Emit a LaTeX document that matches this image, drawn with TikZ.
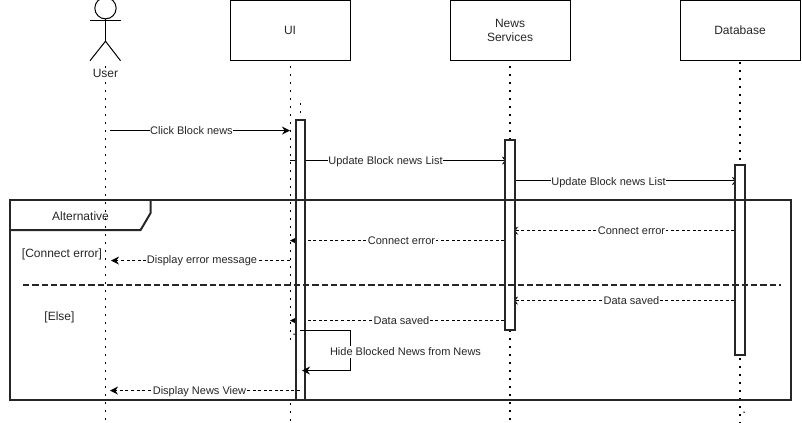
\documentclass[tikz,border=0pt]{standalone}
\usepackage{fontspec}
\setmainfont{Liberation Sans}
\usetikzlibrary{arrows.meta}
\tikzset{
  lbl/.style={font=\fontsize{8.25pt}{9.9pt}\selectfont, text=black!85, align=center, inner sep=0.5pt},
  biglbl/.style={lbl, font=\fontsize{9pt}{10.5pt}\selectfont},
  msglbl/.style={lbl, fill=white, text height=6pt, text depth=1.5pt},
  objbox/.style={draw, line width=0.75pt, minimum width=90pt, minimum height=45pt, biglbl},
  lifeline/.style={line width=1.25pt, dash pattern=on 1.25pt off 4.75pt},
  actbar/.style={draw, black!85, fill=white, line width=1.5pt},
  msg/.style={line width=0.75pt, -{Stealth[length=6pt,width=6pt]}},
  reply/.style={msg, dash pattern=on 2.25pt off 1.9pt},
  frameline/.style={line width=1.5pt, black!85},
  speck/.style={circle, fill, inner sep=0pt, minimum size=1.2pt}
}
\begin{document}
\begin{tikzpicture}[x=0.75pt,y=-0.75pt]
\useasboundingbox (0,-0.2) rectangle (802,422.8);
% objects
\node[objbox] (ui) at (290,30.4){UI};
\node[objbox] (news) at (510,30.4){News\\Services};
\node[objbox] (db) at (740,30.4){Database};
% actor
\node[circle, draw, line width=0.75pt, minimum size=16pt, inner sep=0pt] (head) at (105.5,8){};
\coordinate (neck) at (105.5,41);
\coordinate (armL) at (90,20.5);
\coordinate (armR) at (120.5,20.5);
\coordinate (footL) at (90,60.5);
\coordinate (footR) at (120.5,60.5);
\draw[line width=0.75pt](head) -- (neck);
\draw[line width=0.75pt](armL) -- (armR);
\draw[line width=0.75pt](footL) -- (neck) -- (footR);
% lifelines
\coordinate (userTop) at (105.5,66);
\coordinate (userEnd) at (105.5,423);
\coordinate (uiTop) at (290.5,66);
\coordinate (uiEnd) at (290.5,340);
\coordinate (uiTop2) at (290.5,403);
\coordinate (uiEnd2) at (290.5,423);
\coordinate (barTop) at (300.5,103);
\coordinate (barEnd) at (300.5,120);
\coordinate (newsTop) at (510,66);
\coordinate (newsEnd) at (510,423);
\coordinate (dbTop) at (740,62);
\coordinate (dbEnd) at (740,423);
\draw[lifeline](userTop) -- (userEnd);
\draw[lifeline](uiTop) -- (uiEnd);
\draw[lifeline](uiTop2) -- (uiEnd2);
\draw[lifeline](barTop) -- (barEnd);
\draw[lifeline](newsTop) -- (newsEnd);
\draw[lifeline](dbTop) -- (dbEnd);
\node[speck] (speckUi) at (294,334){};
\node[speck] (speckDb) at (744,412){};
\node[msglbl, biglbl] (user) at (105.5,74.4){User};
% messages behind the bars
\coordinate (m2a) at (290,160.4);
\coordinate (m2b) at (510,160.4);
\coordinate (m3a) at (510,180.8);
\coordinate (m3b) at (740,180.8);
\coordinate (m4a) at (740,230.5);
\coordinate (m4b) at (510,230.5);
\coordinate (m5a) at (510,240.4);
\coordinate (m5b) at (290,240.4);
\coordinate (m7a) at (740,300.4);
\coordinate (m7b) at (510,300.4);
\coordinate (m8a) at (510,320.4);
\coordinate (m8b) at (290,320.4);
\draw[msg](m2a) -- (m2b);
\draw[msg](m3a) -- (m3b);
\draw[reply](m4a) -- (m4b);
\draw[reply](m5a) -- (m5b);
\draw[reply](m7a) -- (m7b);
\draw[reply](m8a) -- (m8b);
% activation bars
\node[actbar, minimum width=7pt, minimum height=210pt, inner sep=0pt] (uiBar) at (300.5,260){};
\node[actbar, minimum width=7pt, minimum height=142.5pt, inner sep=0pt] (newsBar) at (510,235){};
\node[actbar, minimum width=7pt, minimum height=142.5pt, inner sep=0pt] (dbBar) at (740,260){};
% messages in front
\coordinate (m1a) at (110,130.4);
\coordinate (m1b) at (290,130.4);
\coordinate (m6a) at (290,260.4);
\coordinate (m6b) at (111,260.4);
\coordinate (m9a) at (300,330.4);
\coordinate (m9c) at (350.5,330.4);
\coordinate (m9d) at (350.5,370.4);
\coordinate (m9b) at (302,370.4);
\coordinate (m10a) at (300,390.4);
\coordinate (m10b) at (110,390.4);
\draw[msg](m1a) -- (m1b);
\draw[reply](m6a) -- (m6b);
\draw[msg](m9a) -- (m9c) -- (m9d) -- (m9b);
\draw[reply](m10a) -- (m10b);
% message labels
\node[msglbl] (lblClick) at (191.5,131.4){Click Block news};
\node[msglbl] (lblUpdate) at (385.5,161.4){Update Block news List};
\node[msglbl] (lblUpdate2) at (608.5,181.9){Update Block news List};
\node[msglbl] (lblErrDb) at (631.5,231.4){Connect error};
\node[msglbl] (lblErrNews) at (401.5,241.4){Connect error};
\node[msglbl] (lblDisplay) at (202,259.9){Display error message};
\node[msglbl] (lblSavedDb) at (631.5,300.9){Data saved};
\node[msglbl] (lblSavedNews) at (401.5,320.9){Data saved};
\node[msglbl] (lblHide) at (405.5,351.9){Hide Blocked News from News};
\node[msglbl] (lblView) at (199.5,390.9){Display News View};
% alternative frame
\coordinate (frameA) at (10,200);
\coordinate (frameB) at (791,400);
\coordinate (tabA) at (150.5,200);
\coordinate (tabB) at (150.5,213);
\coordinate (tabC) at (140.5,230);
\coordinate (tabD) at (10,230);
\coordinate (divA) at (23,284.5);
\coordinate (divB) at (781,284.5);
\draw[frameline](frameA) rectangle (frameB);
\draw[frameline](tabA) -- (tabB) -- (tabC) -- (tabD);
\draw[frameline, dash pattern=on 4.7pt off 2.3pt](divA) -- (divB);
\node[biglbl] (lblAlt) at (80.5,216.4){Alternative};
\node[biglbl] (lblConnect) at (62,253.9){[Connect error]};
\node[biglbl] (lblElse) at (59.5,317.4){[Else]};
\end{tikzpicture}
\end{document}
